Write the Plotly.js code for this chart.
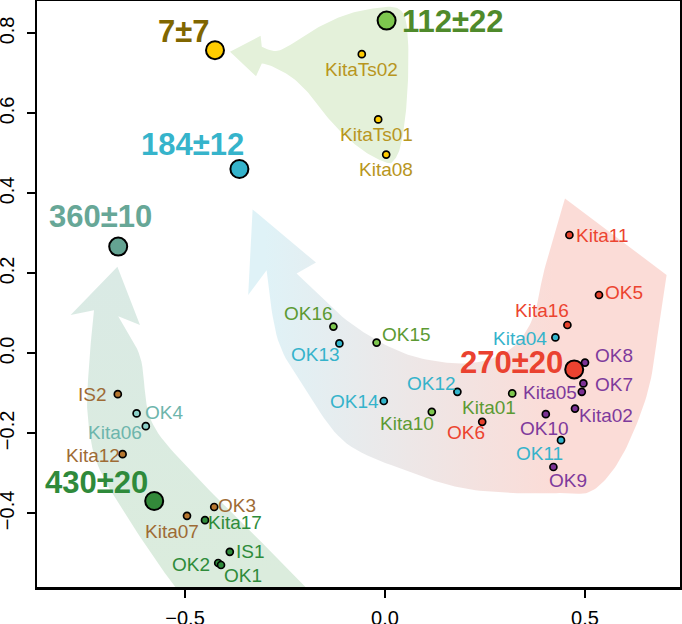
<!DOCTYPE html>
<html>
<head>
<meta charset="utf-8">
<script src="https://cdn.plot.ly/plotly-3.0.1.min.js"></script>
<style>
  html, body { margin: 0; padding: 0; background: #fff; }
  #chart { width: 682px; height: 624px; }
</style>
</head>
<body>
<div id="chart"></div>
<script>
// ---- Samples: position on the two ordination axes and their group ----
const sampleNames = ['KitaTs02','KitaTs01','Kita08',
  'Kita11','OK5','Kita16','OK6',
  'Kita04','OK12','OK14','OK13','OK11',
  'OK8','OK7','Kita05','Kita02','OK10','OK9',
  'Kita01','Kita10','OK15','OK16',
  'OK4','Kita06',
  'IS2','Kita12','OK3','Kita07',
  'Kita17','IS1','OK2','OK1'];
const sampleX = [-0.058, -0.017, 0.003,
  0.461, 0.535, 0.456, 0.243,
  0.426, 0.181, -0.003, -0.114, 0.440,
  0.500, 0.496, 0.492, 0.475, 0.402, 0.421,
  0.318, 0.117, -0.021, -0.129,
  -0.621, -0.598,
  -0.668, -0.656, -0.427, -0.495,
  -0.450, -0.388, -0.417, -0.410];
const sampleY = [0.748, 0.585, 0.497,
  0.296, 0.146, 0.071, -0.171,
  0.040, -0.096, -0.119, 0.025, -0.217,
  -0.023, -0.075, -0.096, -0.138, -0.152, -0.284,
  -0.100, -0.146, 0.027, 0.067,
  -0.150, -0.182,
  -0.102, -0.252, -0.384, -0.406,
  -0.417, -0.496, -0.524, -0.529];
const sampleGroup = ['yellow','yellow','yellow',
  'red','red','red','red',
  'blue','blue','blue','blue','blue',
  'purple','purple','purple','purple','purple','purple',
  'green','green','green','green',
  'teal','teal',
  'brown','brown','brown','brown',
  'darkgreen','darkgreen','darkgreen','darkgreen'];

// ---- Group centres with their age estimates ----
const centreLabels = ['7±7', '112±22', '184±12', '270±20', '360±10', '430±20'];
const centreX = [-0.425, 0.004, -0.364, 0.473, -0.667, -0.577];
const centreY = [0.758, 0.832, 0.461, -0.040, 0.267, -0.369];
const centreGroup = ['yellow', 'green', 'blue', 'red', 'teal', 'darkgreen'];

const xTickVals = [-0.5, 0.0, 0.5];
const yTickVals = [-0.4, -0.2, 0.0, 0.2, 0.4, 0.6, 0.8];

// ---- Styling ----
const FONT = 'Liberation Sans, Arial, Helvetica, sans-serif';
const sampleStyle = {
  yellow:    { fill: '#FFCC00', text: '#B8961E' },
  green:     { fill: '#7DC64E', text: '#5C9A33' },
  blue:      { fill: '#33B5CC', text: '#35B3CB' },
  red:       { fill: '#E8432E', text: '#EC4430' },
  purple:    { fill: '#7B3294', text: '#7E3A9C' },
  teal:      { fill: '#8DD0C8', text: '#6DB5AC' },
  brown:     { fill: '#B5762F', text: '#9E6B35' },
  darkgreen: { fill: '#2E8B3A', text: '#2E8B3A' }
};
const centreStyle = {
  yellow:    { fill: '#FFCC00', text: '#806600' },
  green:     { fill: '#7DC64E', text: '#4F8A2B' },
  blue:      { fill: '#35B3CB', text: '#36B4CB' },
  red:       { fill: '#EA4230', text: '#EA4230' },
  teal:      { fill: '#64A392', text: '#67A797' },
  darkgreen: { fill: '#338A3A', text: '#2F8A3B' }
};

// Label placement: [anchor, dx px, dy px (down)]
const samplePlace = {
  KitaTs02: ['center', 0, 15], KitaTs01: ['center', -2, 15], Kita08: ['center', 0, 15],
  Kita11: ['left', 7, 0], OK5: ['left', 6, -3], Kita16: ['center', -25, -15], OK6: ['center', -16, 11],
  Kita04: ['right', -8, 1], OK12: ['center', -26, -8], OK14: ['right', -5, 0],
  OK13: ['center', -24, 11], OK11: ['center', -22, 13],
  OK8: ['left', 10, -7], OK7: ['left', 12, 1], Kita05: ['right', -5, 1],
  Kita02: ['left', 4, 7], OK10: ['center', -1, 14], OK9: ['center', 15, 13],
  Kita01: ['center', -23, 14], Kita10: ['center', -25, 12], OK15: ['left', 5, -8], OK16: ['center', -25, -13],
  OK4: ['left', 8, -1], Kita06: ['right', -4, 6],
  IS2: ['right', -11, 0], Kita12: ['right', -3, 1], OK3: ['left', 4, -2], Kita07: ['center', -15, 16],
  Kita17: ['left', 3, 2], IS1: ['left', 6, 0], OK2: ['right', -8, 1], OK1: ['left', 3, 10]
};
const centrePlace = {
  '7±7': ['right', -5, -19], '112±22': ['left', 15, 1], '184±12': ['center', -47, -25],
  '270±20': ['right', -11, -7], '360±10': ['center', -18, -30], '430±20': ['right', -6, -19]
};

// ---- Broad arrows (background decoration), outlines in axis units ----
function smooth(pts, n) {
  const out = [];
  for (let i = 0; i < pts.length - 1; i++) {
    const p0 = pts[Math.max(i - 1, 0)], p1 = pts[i], p2 = pts[i + 1], p3 = pts[Math.min(i + 2, pts.length - 1)];
    for (let k = 0; k < n; k++) {
      const t = k / n, t2 = t * t, t3 = t2 * t;
      const f = (a, b, c, d) => 0.5 * ((2 * b) + (-a + c) * t + (2 * a - 5 * b + 4 * c - d) * t2 + (-a + 3 * b - 3 * c + d) * t3);
      out.push([f(p0[0], p1[0], p2[0], p3[0]), f(p0[1], p1[1], p2[1], p3[1])]);
    }
  }
  out.push(pts[pts.length - 1]);
  return out;
}
function outline(parts) {
  let pts = [];
  parts.forEach(p => { pts = pts.concat(p.smooth ? smooth(p.pts, 12) : p.pts); });
  pts.push(pts[0]);
  return { x: pts.map(p => p[0]), y: pts.map(p => p[1]) };
}

const arrowTop = outline([
  { pts: [[-0.3875, 0.754], [-0.311, 0.794]] },
  { smooth: true, pts: [[-0.308, 0.7665], [-0.2625, 0.758], [-0.18, 0.808], [-0.1125, 0.841], [-0.055, 0.858],
      [0.0175, 0.866], [0.0475, 0.846], [0.0575, 0.783], [0.0575, 0.683], [0.05, 0.583], [0.0375, 0.513],
      [0.0225, 0.483], [0.0075, 0.476], [-0.0375, 0.496], [-0.0875, 0.533], [-0.1375, 0.583], [-0.18, 0.638],
      [-0.23, 0.688], [-0.2825, 0.718], [-0.308, 0.725]] },
  { pts: [[-0.3225, 0.693]] }
]);

const arrowMid = outline([
  { pts: [[-0.331, 0.360], [-0.1725, 0.227]] },
  { smooth: true, pts: [[-0.221, 0.200], [-0.096, 0.083], [0.029, 0.008], [0.1375, -0.021], [0.2375, -0.021],
      [0.321, 0.0165], [0.371, 0.0915], [0.396, 0.200], [0.429, 0.3165], [0.450, 0.3875]] },
  { smooth: true, pts: [[0.704, 0.196], [0.6875, 0.0915], [0.6625, -0.074], [0.620, -0.199], [0.570, -0.292],
      [0.5125, -0.346], [0.445, -0.349], [0.320, -0.349], [0.195, -0.337], [0.070, -0.299], [-0.096, -0.225],
      [-0.1975, -0.092], [-0.2675, 0.033], [-0.296, 0.208]] },
  { pts: [[-0.342, 0.146]] }
]);

const arrowLeft = outline([
  { pts: [[-0.669, 0.2165], [-0.6125, 0.071]] },
  { smooth: true, pts: [[-0.667, 0.093], [-0.612, -0.009], [-0.585, -0.167], [-0.4875, -0.292], [-0.3375, -0.442],
      [-0.2, -0.584], [-0.1125, -0.667]] },
  { smooth: true, pts: [[-0.4625, -0.667], [-0.525, -0.584], [-0.6125, -0.4585], [-0.7125, -0.292], [-0.7425, -0.167],
      [-0.741, -0.042], [-0.7275, 0.108]] },
  { pts: [[-0.786, 0.096]] }
]);

const traces = [];
traces.push({ type: 'scatter', mode: 'lines', x: arrowTop.x, y: arrowTop.y, fill: 'toself',
  fillcolor: '#E4F1DA', line: { width: 0 }, hoverinfo: 'skip' });
traces.push({ type: 'scatter', mode: 'lines', x: arrowLeft.x, y: arrowLeft.y, fill: 'toself',
  fillgradient: { type: 'vertical', start: -0.55, stop: 0.2, colorscale: [[0, '#DBECDD'], [1, '#DAEAE5']] },
  line: { width: 0 }, hoverinfo: 'skip' });
traces.push({ type: 'scatter', mode: 'lines', x: arrowMid.x, y: arrowMid.y, fill: 'toself',
  fillgradient: { type: 'horizontal', start: -0.3, stop: 0.42, colorscale: [[0, '#DFF2F7'], [1, '#FBDCD7']] },
  line: { width: 0 }, hoverinfo: 'skip' });

// Sample markers, one trace per group
Object.keys(sampleStyle).forEach(g => {
  const idx = sampleGroup.map((v, i) => v === g ? i : -1).filter(i => i >= 0);
  traces.push({
    type: 'scatter', mode: 'markers',
    x: idx.map(i => sampleX[i]), y: idx.map(i => sampleY[i]), text: idx.map(i => sampleNames[i]),
    marker: { size: 7, color: sampleStyle[g].fill, line: { color: '#000', width: 1.7 } },
    cliponaxis: false, hoverinfo: 'text'
  });
});

// Group centres
traces.push({
  type: 'scatter', mode: 'markers', x: centreX, y: centreY, text: centreLabels,
  marker: { size: 18, color: centreGroup.map(g => centreStyle[g].fill), line: { color: '#000', width: 2 } },
  cliponaxis: false, hoverinfo: 'text'
});

const annotations = [];
sampleNames.forEach((n, i) => {
  const p = samplePlace[n];
  annotations.push({
    x: sampleX[i], y: sampleY[i], xref: 'x', yref: 'y', text: n, showarrow: false,
    xanchor: p[0], yanchor: 'middle', xshift: p[1], yshift: -p[2],
    borderpad: 0, borderwidth: 0,
    font: { family: FONT, size: 19, color: sampleStyle[sampleGroup[i]].text }
  });
});
centreLabels.forEach((t, i) => {
  const p = centrePlace[t];
  annotations.push({
    x: centreX[i], y: centreY[i], xref: 'x', yref: 'y', text: '<b>' + t + '</b>', showarrow: false,
    xanchor: p[0], yanchor: 'middle', xshift: p[1], yshift: -p[2],
    borderpad: 0, borderwidth: 0,
    font: { family: FONT, size: 31, color: centreStyle[centreGroup[i]].text }
  });
});

const axisCommon = {
  showgrid: false, zeroline: false, showline: true, linecolor: '#000', linewidth: 2.5, mirror: true,
  ticks: 'outside', ticklen: 8, tickwidth: 2, tickcolor: '#000', tickformat: '.1f',
  tickfont: { family: FONT, size: 20, color: '#000' }, fixedrange: true
};

const layout = {
  width: 682, height: 624,
  margin: { l: 37, r: 2, t: 1, b: 37, pad: 0 },
  paper_bgcolor: '#fff', plot_bgcolor: '#fff',
  showlegend: false,
  xaxis: Object.assign({}, axisCommon, { range: [-0.87, 0.7375], tickvals: xTickVals, ticklabelstandoff: 3 }),
  yaxis: Object.assign({}, axisCommon, { range: [-0.584, 0.881], tickvals: yTickVals, tickangle: -90, ticklabelstandoff: 5 }),
  annotations: annotations
};

Plotly.newPlot('chart', traces, layout, { staticPlot: true, displayModeBar: false });
</script>
</body>
</html>
